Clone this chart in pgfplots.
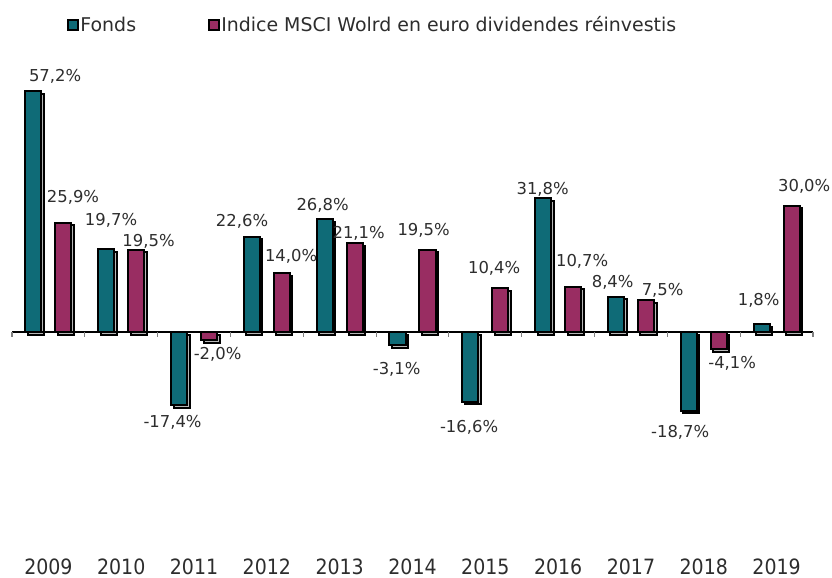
\documentclass[border=0pt]{standalone}
\usepackage{fontspec}
\setmainfont{DejaVu Sans}
\newfontfamily\yearfont[FakeStretch=0.9]{DejaVu Sans}
\usepackage{pgfplots}
\pgfplotsset{compat=1.18}
\usetikzlibrary{shadows}
\definecolor{fondsc}{RGB}{15,107,119}
\definecolor{indexc}{RGB}{153,45,98}
\definecolor{txt}{RGB}{45,45,45}
\begin{document}
\begin{tikzpicture}
\begin{axis}[
  width=624pt, height=433.5pt, scale only axis,
  xmin=-0.665, xmax=10.761, ymin=-58.39, ymax=78.80,
  axis line style={draw=none},
  tick style={draw=none},
  major tick length=0pt,
  ytick=\empty,
  xtick={0,1,2,3,4,5,6,7,8,9,10},
  xticklabels={2009,2010,2011,2012,2013,2014,2015,2016,2017,2018,2019},
  xticklabel style={anchor=base, inner sep=0pt, yshift=2.6pt, font=\yearfont\fontsize{15.8}{18}\selectfont, text=txt},
  clip=false,
  legend columns=2,
  legend cell align=left,
  legend image code/.code={\draw[#1, line width=1.5pt] (0pt,-3.75pt) rectangle (7.5pt,3.75pt);},
  legend style={at={(rel axis cs:0.080,0.9567)}, anchor=west, draw=none, fill=none, inner sep=0pt,
    font=\fontsize{14.2}{16}\selectfont, text=txt, nodes={inner sep=1.2pt},
    /tikz/every even column/.append style={column sep=52.5pt}},
  mybar/.style={ybar, bar width=0.22, draw=black, line width=1.5pt,
    drop shadow={shadow xshift=1.9pt, shadow yshift=-1.9pt, fill=black!28, opacity=1}},
  lab/.style={draw=none, mark=none, forget plot, nodes near coords, point meta=explicit symbolic,
    every node near coord/.append style={anchor=base, inner sep=0pt, text=txt, font=\fontsize{12.3}{14}\selectfont}},
]
\addlegendimage{fill=fondsc, draw=black}
\addlegendentry{Fonds}
\addlegendimage{fill=indexc, draw=black}
\addlegendentry{Indice MSCI Wolrd en euro dividendes réinvestis}

% Fonds
\addplot[mybar, fill=fondsc, bar shift=-0.206, forget plot] coordinates {
 (0,57.2) (1,19.7) (2,-17.4) (3,22.6) (4,26.8) (5,-3.1) (6,-16.6) (7,31.8) (8,8.4) (9,-18.7) (10,1.8)};
% Indice
\addplot[mybar, fill=indexc, bar shift=0.206, forget plot] coordinates {
 (0,25.9) (1,19.5) (2,-2.0) (3,14.0) (4,21.1) (5,19.5) (6,10.4) (7,10.7) (8,7.5) (9,-4.1) (10,30.0)};

% zero line and ticks
\draw[black, line width=1.1pt] (axis cs:-0.5,0) -- (axis cs:10.5,0);
\pgfplotsinvokeforeach{-0.5,0.5,1.5,2.5,3.5,4.5,5.5,6.5,7.5,8.5,9.5,10.5}{
  \draw[black!50, line width=0.8pt] (axis cs:#1,0) -- ++(0pt,-3.75pt);
}

% data labels
\addplot[lab] coordinates {
 (0.091,59.34) [57,2\%]
 (0.338,30.62) [25,9\%]
 (0.860,25.16) [19,7\%]
 (1.375,20.18) [19,5\%]
 (1.705,-22.79) [-17,4\%]
 (2.323,-6.53) [-2,0\%]
 (2.659,24.92) [22,6\%]
 (3.332,16.73) [14,0\%]
 (3.765,28.84) [26,8\%]
 (4.260,22.07) [21,1\%]
 (5.152,22.90) [19,5\%]
 (4.782,-10.21) [-3,1\%]
 (6.121,13.77) [10,4\%]
 (5.777,-23.85) [-16,6\%]
 (6.787,32.52) [31,8\%]
 (7.330,15.43) [10,7\%]
 (7.749,10.56) [8,4\%]
 (8.435,8.66) [7,5\%]
 (8.676,-25.16) [-18,7\%]
 (9.390,-8.66) [-4,1\%]
 (9.754,6.17) [1,8\%]
 (10.379,33.35) [30,0\%]
};
\end{axis}
\end{tikzpicture}
\end{document}
